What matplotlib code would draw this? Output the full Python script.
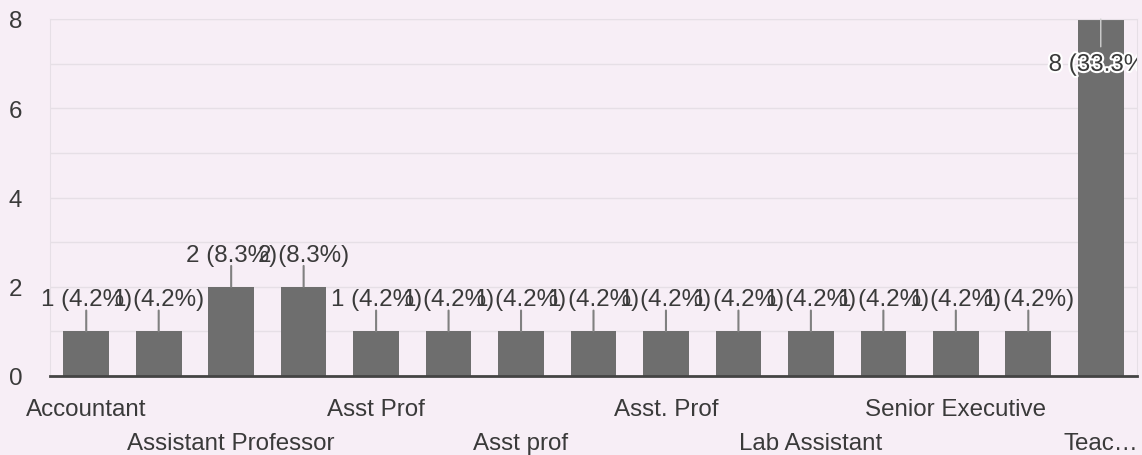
import matplotlib.pyplot as plt
import matplotlib.patheffects as pe
from matplotlib.ticker import MultipleLocator

# designation counts (24 responses)
categories = ["Accountant", "Assistant Prof", "Assistant Professor", "Assistant professor",
              "Asst Prof", "Asst Professor", "Asst prof", "Asst professor", "Asst. Prof",
              "Asst. Professor", "Lab Assistant", "Lecturer", "Senior Executive", "Student",
              "Teac…"]
counts = [1, 1, 2, 2, 1, 1, 1, 1, 1, 1, 1, 1, 1, 1, 8]
total = sum(counts)

bg = "#f7eef6"
bar_color = "#6e6e6e"
text_color = "#3a3a3a"
grid_color = "#e6dfe6"

plt.rcParams["font.family"] = ["Liberation Sans", "DejaVu Sans"]

fig = plt.figure(figsize=(11.42, 4.56), dpi=100, facecolor=bg)
ax = fig.add_axes([50 / 1142, 79 / 456, 1087 / 1142, 357 / 456], facecolor=bg)

x = list(range(len(categories)))
ax.bar(x, counts, width=0.63, color=bar_color, zorder=2)

ax.set_xlim(-0.5, len(categories) - 0.5)
ax.set_ylim(0, 8)
ax.yaxis.set_major_locator(MultipleLocator(2))
ax.yaxis.set_minor_locator(MultipleLocator(1))
ax.grid(True, axis="y", which="both", color=grid_color, linewidth=1, zorder=0)

for side in ["top", "right", "left"]:
    ax.spines[side].set_color(grid_color)
ax.spines["bottom"].set_color("#444444")
ax.spines["bottom"].set_linewidth(2)
ax.spines["bottom"].set_zorder(3)

# alternate rows of category labels, like the auto-skipped axis
row1 = x[0::4]
row2 = x[2::4]
ax.set_xticks(row1, [categories[i] for i in row1])
ax.set_xticks(row2, [categories[i] for i in row2], minor=True)
ax.tick_params(axis="x", which="major", length=0, pad=16, labelsize=17.4, labelcolor=text_color)
ax.tick_params(axis="x", which="minor", length=0, pad=40, labelsize=17.4, labelcolor=text_color)
ax.tick_params(axis="y", which="both", length=0, pad=20, labelsize=17.4, labelcolor=text_color)

halo = [pe.withStroke(linewidth=3, foreground="white")]
for i, v in enumerate(counts):
    label = f"{v} ({v / total * 100:.1f}%)"
    if v >= 4:
        # label sits inside the tall bar, clipped at the plot edge
        ax.annotate("", (i, v), xytext=(0, -20), textcoords="offset points",
                    arrowprops=dict(arrowstyle="-", color="#d0d0d0", linewidth=1,
                                    shrinkA=0, shrinkB=0), zorder=3)
        ax.annotate(label, (i, v), xytext=(0, -33), textcoords="offset points",
                    ha="center", va="center", fontsize=17.4, color=text_color,
                    path_effects=halo, annotation_clip=False, clip_on=True, zorder=4)
    else:
        ax.annotate(label, (i, v), xytext=(0, 23), textcoords="offset points",
                    ha="center", va="center", fontsize=17.4, color=text_color, zorder=4)
        ax.annotate("", (i, v), xytext=(0, 15), textcoords="offset points",
                    arrowprops=dict(arrowstyle="-", color="#808080", linewidth=1.5,
                                    shrinkA=0, shrinkB=0), zorder=3)

fig.savefig("out.png", dpi=100, facecolor=bg)
